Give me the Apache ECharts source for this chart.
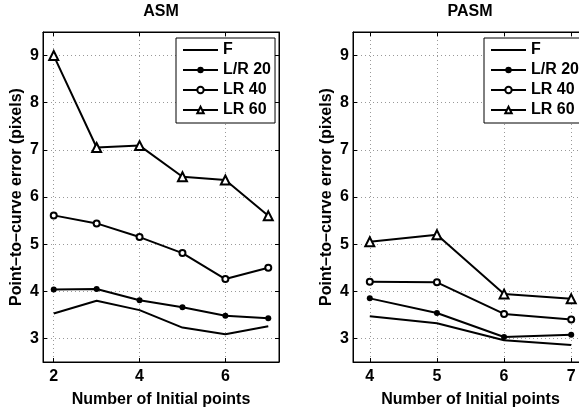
<!DOCTYPE html>
<html>
<head>
<meta charset="utf-8">
<script src="https://cdn.jsdelivr.net/npm/echarts@6/dist/echarts.min.js"></script>
<style>
html,body{margin:0;padding:0;background:#fff;}
#c{width:579px;height:409px;}
</style>
</head>
<body>
<div id="c"></div>
<script>
// ---- data ----
const seriesNames = ['F', 'L/R 20', 'LR 40', 'LR 60'];
const titles = ['ASM', 'PASM'];
const xLabelText = 'Number of Initial points';
const yLabelText = 'Point–to–curve error (pixels)';

const asmX = [2, 3, 4, 5, 6, 7];
const asmF    = [3.53, 3.80, 3.60, 3.23, 3.09, 3.26];
const asmLR20 = [4.04, 4.05, 3.81, 3.66, 3.48, 3.43];
const asmLR40 = [5.61, 5.44, 5.15, 4.81, 4.26, 4.50];
const asmLR60 = [9.00, 7.05, 7.09, 6.43, 6.36, 5.60];

const pasmX = [4, 5, 6, 7];
const pasmF    = [3.47, 3.32, 2.96, 2.86];
const pasmLR20 = [3.85, 3.54, 3.03, 3.08];
const pasmLR40 = [4.20, 4.19, 3.52, 3.40];
const pasmLR60 = [5.05, 5.20, 3.94, 3.84];

const asmXTicks = [2, 4, 6];
const pasmXTicks = [4, 5, 6, 7];
const yTicks = [3, 4, 5, 6, 7, 8, 9];
const asmXRange = [1.75, 7.25];
const pasmXRange = [3.75, 7.25];
const yRange = [2.5, 9.5];

// ---- chart ----
const FONT = '"Liberation Sans", Arial, Helvetica, sans-serif';
const chart = echarts.init(document.getElementById('c'), null, {renderer: 'canvas'});

const grids = [
  {left: 43, top: 32, width: 236, height: 330},
  {left: 353, top: 32, width: 235, height: 330}
];

function xAxisFor(gi, range, ticks) {
  return [{
    type: 'value', gridIndex: gi, position: 'bottom',
    min: range[0], max: range[1],
    name: xLabelText, nameLocation: 'middle', nameGap: 30, nameMoveOverlap: false,
    nameTextStyle: {fontFamily: FONT, fontWeight: 'bold', fontSize: 16, color: '#000'},
    axisLine: {show: true, onZero: false, lineStyle: {color: '#000', width: 1}},
    axisTick: {show: true, inside: true, length: 4, customValues: ticks, lineStyle: {color: '#000'}},
    axisLabel: {show: true, customValues: ticks, margin: 7, fontFamily: FONT, fontWeight: 'bold', fontSize: 16, color: '#000'},
    splitLine: {show: true, lineStyle: {color: '#999', width: 1, type: [1, 3]}}
  }, {
    type: 'value', gridIndex: gi, position: 'top',
    min: range[0], max: range[1],
    axisLine: {show: true, onZero: false, lineStyle: {color: '#000', width: 1}},
    axisTick: {show: true, inside: true, length: 4, customValues: ticks, lineStyle: {color: '#000'}},
    axisLabel: {show: false},
    splitLine: {show: false}
  }];
}
function yAxisFor(gi) {
  return [{
    type: 'value', gridIndex: gi, position: 'left',
    min: yRange[0], max: yRange[1],
    name: yLabelText, nameLocation: 'middle', nameGap: 18, nameMoveOverlap: false,
    nameTextStyle: {fontFamily: FONT, fontWeight: 'bold', fontSize: 16, color: '#000'},
    axisLine: {show: true, onZero: false, lineStyle: {color: '#000', width: 1}},
    axisTick: {show: true, inside: true, length: 4, customValues: yTicks, lineStyle: {color: '#000'}},
    axisLabel: {show: true, customValues: yTicks, margin: 4, fontFamily: FONT, fontWeight: 'bold', fontSize: 16, color: '#000'},
    splitLine: {show: true, lineStyle: {color: '#999', width: 1, type: [1, 3]}}
  }, {
    type: 'value', gridIndex: gi, position: 'right',
    min: yRange[0], max: yRange[1],
    axisLine: {show: true, onZero: false, lineStyle: {color: '#000', width: 1}},
    axisTick: {show: true, inside: true, length: 4, customValues: yTicks, lineStyle: {color: '#000'}},
    axisLabel: {show: false},
    splitLine: {show: false}
  }];
}

const symbolDefs = [
  {symbol: 'none', symbolSize: 0, borderWidth: 0},
  {symbol: 'circle', symbolSize: 6, borderWidth: 0},
  {symbol: 'emptyCircle', symbolSize: 6, borderWidth: 2},
  {symbol: 'emptyTriangle', symbolSize: 9, borderWidth: 2}
];

function makeSeries(gi, xs, lists) {
  return lists.map((vals, i) => ({
    type: 'line', name: seriesNames[i],
    xAxisIndex: gi * 2, yAxisIndex: gi * 2,
    data: xs.map((x, k) => [x, vals[k]]),
    symbol: symbolDefs[i].symbol, symbolSize: symbolDefs[i].symbolSize,
    showSymbol: symbolDefs[i].symbol !== 'none',
    lineStyle: {color: '#000', width: 2},
    itemStyle: {color: '#000', borderColor: '#000', borderWidth: symbolDefs[i].borderWidth},
    emphasis: {disabled: true},
    z: 3
  }));
}

const legendData = seriesNames.map((n, i) => i === 0 ? {name: n, icon: 'path://M0,0h35v2h-35z'} : {name: n});
function legendAt(left) {
  return {
    left: left, top: 38, orient: 'vertical',
    data: legendData,
    itemWidth: 35, itemHeight: 8, itemGap: 4,
    padding: [4, 4, 5, 6],
    backgroundColor: '#fff', borderColor: '#000', borderWidth: 1,
    selectedMode: false,
    textStyle: {fontFamily: FONT, fontWeight: 'bold', fontSize: 16, color: '#000'}
  };
}

const option = {
  animation: false,
  backgroundColor: '#fff',
  title: [
    {text: titles[0], left: 161, top: 4, textAlign: 'center', padding: 0,
     textStyle: {fontFamily: FONT, fontWeight: 'bold', fontSize: 16, color: '#000'}},
    {text: titles[1], left: 470, top: 4, textAlign: 'center', padding: 0,
     textStyle: {fontFamily: FONT, fontWeight: 'bold', fontSize: 16, color: '#000'}}
  ],
  grid: grids.map(g => Object.assign({show: true, borderColor: '#000', borderWidth: 1, backgroundColor: '#fff', containLabel: false, outerBoundsMode: 'none'}, g)),
  xAxis: [].concat(xAxisFor(0, asmXRange, asmXTicks), xAxisFor(1, pasmXRange, pasmXTicks)),
  yAxis: [].concat(yAxisFor(0), yAxisFor(1)),
  legend: [legendAt(176), legendAt(484)],
  series: [].concat(
    makeSeries(0, asmX, [asmF, asmLR20, asmLR40, asmLR60]),
    makeSeries(1, pasmX, [pasmF, pasmLR20, pasmLR40, pasmLR60])
  )
};
chart.setOption(option);
</script>
</body>
</html>
